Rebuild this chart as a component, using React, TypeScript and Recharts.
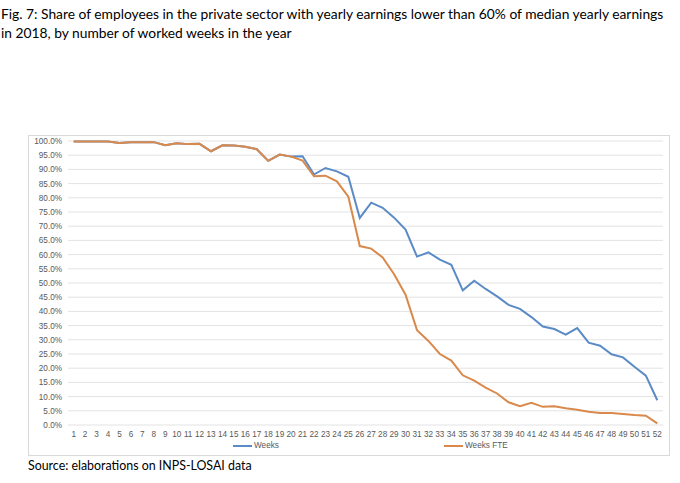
import { LineChart, Line, XAxis, YAxis, CartesianGrid, Legend } from 'recharts';

const weekLabels = [
    '1', '2', '3', '4', '5', '6', '7', '8', '9', '10', '11', '12', '13',
    '14', '15', '16', '17', '18', '19', '20', '21', '22', '23', '24', '25', '26',
    '27', '28', '29', '30', '31', '32', '33', '34', '35', '36', '37', '38', '39',
    '40', '41', '42', '43', '44', '45', '46', '47', '48', '49', '50', '51', '52',
];

const weeksShare = [
    99.8, 99.8, 99.8, 99.8, 99.3, 99.6, 99.6, 99.6, 98.5, 99.2, 98.9, 99.0, 96.4,
    98.5, 98.4, 98.0, 97.1, 93.0, 95.2, 94.5, 94.6, 88.2, 90.5, 89.3, 87.4, 72.9,
    78.3, 76.5, 73.0, 68.8, 59.3, 60.8, 58.2, 56.4, 47.4, 50.8, 47.9, 45.3, 42.3,
    40.9, 38.0, 34.7, 33.8, 31.8, 34.1, 29.0, 27.9, 24.9, 23.8, 20.5, 17.4, 8.7,
];

const weeksFteShare = [
    99.8, 99.8, 99.8, 99.8, 99.3, 99.6, 99.6, 99.6, 98.5, 99.2, 98.9, 99.0, 96.4,
    98.5, 98.4, 98.0, 97.1, 93.0, 95.2, 94.5, 93.1, 87.6, 87.8, 85.8, 80.4, 63.0,
    62.1, 59.0, 53.1, 45.9, 33.4, 29.6, 25.0, 22.7, 17.5, 15.6, 13.2, 11.1, 8.0,
    6.6, 7.8, 6.4, 6.6, 5.9, 5.4, 4.7, 4.2, 4.2, 3.9, 3.5, 3.3, 0.6,
];

const yTicks = [0, 5, 10, 15, 20, 25, 30, 35, 40, 45, 50, 55, 60, 65, 70, 75, 80, 85, 90, 95, 100];

const data = weekLabels.map((week, i) => ({
    week,
    weeks: weeksShare[i],
    fte: weeksFteShare[i],
}));

const tickStyle = { fill: '#595959', fontSize: 8.2, fontFamily: 'Liberation Sans, Arial, sans-serif' };

function LegendRow() {
    const item = (label: string, color: string, left: number) => (
        <div style={{ position: 'absolute', left, top: 0, display: 'flex', alignItems: 'center' }}>
            <span style={{ display: 'inline-block', width: 19, height: 2, background: color, marginRight: 2 }} />
            <span style={{ fontSize: 8.2, color: '#595959', fontFamily: 'Liberation Sans, Arial, sans-serif' }}>{label}</span>
        </div>
    );
    return (
        <div style={{ position: 'relative', height: 12 }}>
            {item('Weeks', '#5b8bc6', 204)}
            {item('Weeks FTE', '#d9894b', 415)}
        </div>
    );
}

export default function App() {
    return (
        <div style={{ position: 'relative', width: 680, height: 483, background: '#fff', fontFamily: 'Lato, sans-serif' }}>
            <style>{'body{margin:0}'}</style>
            <div style={{ position: 'absolute', left: 1, top: 4, fontSize: 13.8, lineHeight: '19px', color: '#000', whiteSpace: 'nowrap' }}>
                Fig. 7: Share of employees in the private sector with yearly earnings lower than 60% of median yearly earnings
                <br />
                in 2018, by number of worked weeks in the year
            </div>
            <div
                style={{
                    position: 'absolute',
                    left: 28,
                    top: 135,
                    width: 640,
                    height: 319,
                    border: '1px solid #d9d9d9',
                }}
            >
                <LineChart
                    width={640}
                    height={319}
                    data={data}
                    margin={{ top: 5, right: 6, left: 0, bottom: 2 }}
                >
                    <CartesianGrid vertical={false} stroke="#e3e3e3" />
                    <XAxis
                        dataKey="week"
                        interval={0}
                        axisLine={false}
                        tickLine={false}
                        tickSize={0}
                        tickMargin={6}
                        tick={tickStyle}
                        padding={{ left: 5.7, right: 5.7 }}
                        height={16}
                    />
                    <YAxis
                        domain={[0, 100]}
                        ticks={yTicks}
                        interval={0}
                        axisLine={false}
                        tickLine={false}
                        tickSize={0}
                        tickMargin={6}
                        width={39}
                        tick={tickStyle}
                        tickFormatter={(v) => `${Number(v).toFixed(1)}%`}
                    />
                    <Legend verticalAlign="bottom" content={() => <LegendRow />} />
                    <Line
                        dataKey="weeks"
                        name="Weeks"
                        stroke="#5b8bc6"
                        strokeWidth={2}
                        dot={false}
                        isAnimationActive={false}
                    />
                    <Line
                        dataKey="fte"
                        name="Weeks FTE"
                        stroke="#d9894b"
                        strokeWidth={2}
                        dot={false}
                        isAnimationActive={false}
                    />
                </LineChart>
            </div>
            <div style={{ position: 'absolute', left: 28, top: 458, fontSize: 12.4, color: '#000', whiteSpace: 'nowrap' }}>
                Source: elaborations on INPS-LOSAI data
            </div>
        </div>
    );
}
